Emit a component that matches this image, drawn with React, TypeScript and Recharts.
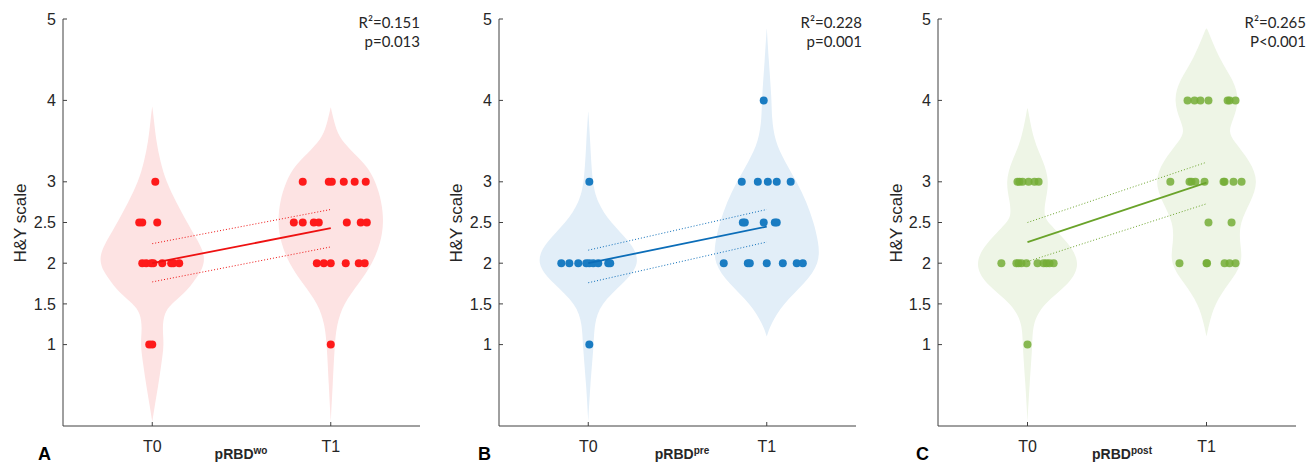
import React from 'react';
import { ScatterChart, Scatter, XAxis, YAxis } from 'recharts';

const categories = ['T0', 'T1'];
const yTicks = [1, 1.5, 2, 2.5, 3, 4, 5];
const panelLetters = ['A', 'B', 'C'];
const groupNames = ['pRBD', 'pRBD', 'pRBD'];
const groupSups = ['wo', 'pre', 'post'];
const r2Labels = ['R\u00B2=0.151', 'R\u00B2=0.228', 'R\u00B2=0.265'];
const pLabels = ['p=0.013', 'p=0.001', 'P<0.001'];

// ---- dots (x = jittered category position, y = H&Y value)
const dotsA = [
  { x: 1.017, y: 3 },
  { x: 0.927, y: 2.5 }, { x: 0.944, y: 2.5 }, { x: 1.028, y: 2.5 },
  { x: 0.944, y: 2 }, { x: 0.966, y: 2 }, { x: 0.994, y: 2 }, { x: 1.006, y: 2 },
  { x: 1.056, y: 2 }, { x: 1.106, y: 2 }, { x: 1.118, y: 2 }, { x: 1.151, y: 2 },
  { x: 0.983, y: 1 }, { x: 1.0, y: 1 },
  { x: 1.843, y: 3 }, { x: 1.989, y: 3 }, { x: 2.006, y: 3 }, { x: 2.073, y: 3 }, { x: 2.134, y: 3 }, { x: 2.196, y: 3 },
  { x: 1.793, y: 2.5 }, { x: 1.843, y: 2.5 }, { x: 1.905, y: 2.5 }, { x: 1.933, y: 2.5 },
  { x: 2.09, y: 2.5 }, { x: 2.168, y: 2.5 }, { x: 2.202, y: 2.5 },
  { x: 1.922, y: 2 }, { x: 1.961, y: 2 }, { x: 2.0, y: 2 }, { x: 2.084, y: 2 }, { x: 2.157, y: 2 }, { x: 2.19, y: 2 },
  { x: 2.0, y: 1 },
];
const dotsB = [
  { x: 1.006, y: 3 },
  { x: 0.849, y: 2 }, { x: 0.894, y: 2 }, { x: 0.944, y: 2 }, { x: 0.989, y: 2 }, { x: 1.006, y: 2 },
  { x: 1.028, y: 2 }, { x: 1.056, y: 2 }, { x: 1.112, y: 2 }, { x: 1.123, y: 2 },
  { x: 1.006, y: 1 },
  { x: 1.983, y: 4 },
  { x: 1.86, y: 3 }, { x: 1.95, y: 3 }, { x: 2.006, y: 3 }, { x: 2.056, y: 3 }, { x: 2.134, y: 3 },
  { x: 1.866, y: 2.5 }, { x: 1.877, y: 2.5 }, { x: 1.983, y: 2.5 }, { x: 2.045, y: 2.5 }, { x: 2.056, y: 2.5 },
  { x: 1.759, y: 2 }, { x: 1.894, y: 2 }, { x: 1.905, y: 2 }, { x: 2.0, y: 2 }, { x: 2.09, y: 2 }, { x: 2.168, y: 2 }, { x: 2.202, y: 2 },
];
const dotsC = [
  { x: 0.944, y: 3 }, { x: 0.955, y: 3 }, { x: 0.972, y: 3 }, { x: 1.006, y: 3 }, { x: 1.039, y: 3 }, { x: 1.062, y: 3 },
  { x: 0.854, y: 2 }, { x: 0.938, y: 2 }, { x: 0.95, y: 2 }, { x: 0.966, y: 2 }, { x: 0.994, y: 2 },
  { x: 1.056, y: 2 }, { x: 1.09, y: 2 }, { x: 1.106, y: 2 }, { x: 1.123, y: 2 }, { x: 1.146, y: 2 },
  { x: 1.0, y: 1 },
  { x: 1.894, y: 4 }, { x: 1.933, y: 4 }, { x: 1.966, y: 4 }, { x: 2.011, y: 4 }, { x: 2.118, y: 4 }, { x: 2.129, y: 4 }, { x: 2.162, y: 4 },
  { x: 1.798, y: 3 }, { x: 1.905, y: 3 }, { x: 1.916, y: 3 }, { x: 1.938, y: 3 }, { x: 1.989, y: 3 },
  { x: 2.095, y: 3 }, { x: 2.101, y: 3 }, { x: 2.151, y: 3 }, { x: 2.196, y: 3 },
  { x: 2.011, y: 2.5 }, { x: 2.14, y: 2.5 },
  { x: 1.849, y: 2 }, { x: 2.0, y: 2 }, { x: 2.003, y: 2 }, { x: 2.101, y: 2 }, { x: 2.129, y: 2 }, { x: 2.162, y: 2 },
];

// ---- violin density profiles (y level, half width in x units)
const violinA0Y = [0.05, 0.25, 0.5, 0.75, 1.0, 1.2, 1.39, 1.5, 1.63, 1.75, 1.9, 2.05, 2.2, 2.35, 2.5, 2.75, 3.0, 3.25, 3.5, 3.75, 3.93];
const violinA0W = [0, 0.014, 0.034, 0.05, 0.067, 0.056, 0.067, 0.106, 0.179, 0.224, 0.275, 0.297, 0.275, 0.235, 0.196, 0.134, 0.078, 0.045, 0.022, 0.01, 0];
const violinA1Y = [0.05, 0.5, 1.0, 1.25, 1.5, 1.75, 2.0, 2.25, 2.5, 2.75, 3.0, 3.2, 3.4, 3.55, 3.75, 3.92];
const violinA1W = [0, 0.011, 0.022, 0.034, 0.07, 0.157, 0.235, 0.28, 0.297, 0.286, 0.252, 0.202, 0.106, 0.045, 0.017, 0];
const violinB0Y = [0.05, 0.5, 1.0, 1.25, 1.5, 1.75, 2.0, 2.25, 2.5, 2.75, 3.0, 3.5, 3.88];
const violinB0W = [0, 0.011, 0.031, 0.034, 0.067, 0.196, 0.297, 0.241, 0.123, 0.05, 0.022, 0.011, 0];
const violinB1Y = [1.1, 1.25, 1.5, 1.75, 2.0, 2.25, 2.5, 2.75, 3.0, 3.25, 3.5, 3.79, 4.0, 4.5, 4.9];
const violinB1W = [0, 0.022, 0.09, 0.213, 0.297, 0.291, 0.263, 0.224, 0.168, 0.101, 0.045, 0.028, 0.028, 0.011, 0];
const violinC0Y = [0.05, 0.5, 1.0, 1.25, 1.5, 1.75, 2.0, 2.25, 2.5, 2.6, 2.75, 3.0, 3.25, 3.5, 3.92];
const violinC0W = [0, 0.011, 0.028, 0.028, 0.084, 0.241, 0.297, 0.23, 0.112, 0.092, 0.098, 0.123, 0.09, 0.034, 0];
const violinC1Y = [1.1, 1.25, 1.5, 1.75, 2.0, 2.25, 2.5, 2.75, 3.0, 3.25, 3.5, 3.62, 3.75, 4.0, 4.25, 4.5, 4.9];
const violinC1W = [0, 0.014, 0.045, 0.123, 0.207, 0.185, 0.185, 0.246, 0.291, 0.246, 0.151, 0.123, 0.146, 0.185, 0.151, 0.073, 0];

// ---- regression fit and confidence bounds at T0 and T1
const fitA = [2.0, 2.43];
const upperA = [2.24, 2.66];
const lowerA = [1.77, 2.2];
const fitB = [2.0, 2.45];
const upperB = [2.16, 2.66];
const lowerB = [1.76, 2.26];
const fitC = [2.26, 2.99];
const upperC = [2.5, 3.24];
const lowerC = [2.02, 2.73];

const FONT = '"Liberation Sans", Arial, sans-serif';
const TEXT = '#262626';
const AXIS = '#404040';

const buildViolin = (center: number, ys: number[], ws: number[]) => {
  const left = ys.map((y, i) => ({ x: center - ws[i], y }));
  const right = ys.map((y, i) => ({ x: center + ws[i], y })).reverse();
  return [...left, ...right];
};
const buildLine = (vals: number[]) => vals.map((y, i) => ({ x: i + 1, y }));

const noShape = () => <g />;

type PanelProps = {
  dots: { x: number; y: number }[];
  v0: { x: number; y: number }[];
  v1: { x: number; y: number }[];
  fit: number[];
  upper: number[];
  lower: number[];
  dotColor: string;
  dotOpacity: number;
  lineColor: string;
  fillColor: string;
  width: number;
  right: number;
};

function Panel(p: PanelProps) {
  const dotShape = (s: any) => (
    <circle cx={s.cx} cy={s.cy} r={4} fill={p.dotColor} fillOpacity={p.dotOpacity} />
  );
  return (
    <ScatterChart width={p.width} height={463} margin={{ top: 19, right: p.right, left: 13, bottom: 7 }}>
      <XAxis
        type="number"
        dataKey="x"
        domain={[0.5, 2.5]}
        ticks={[1, 2]}
        allowDataOverflow
        tickFormatter={(v: number) => categories[Math.round(v) - 1]}
        height={30}
        tickSize={-4}
        tickMargin={19}
        axisLine={{ stroke: AXIS, strokeWidth: 1 }}
        tickLine={{ stroke: AXIS }}
        tick={{ fill: TEXT, fontSize: 16, fontFamily: FONT }}
      />
      <YAxis
        type="number"
        dataKey="y"
        domain={[0, 5]}
        ticks={yTicks}
        allowDataOverflow
        width={50}
        tickSize={-4}
        tickMargin={11}
        axisLine={{ stroke: AXIS, strokeWidth: 1 }}
        tickLine={{ stroke: AXIS }}
        tick={{ fill: TEXT, fontSize: 16, fontFamily: FONT }}
      />
      <Scatter data={p.v0} shape={noShape} isAnimationActive={false} legendType="none"
        line={{ fill: p.fillColor, stroke: 'none' }} lineJointType="basis" />
      <Scatter data={p.v1} shape={noShape} isAnimationActive={false} legendType="none"
        line={{ fill: p.fillColor, stroke: 'none' }} lineJointType="basis" />
      <Scatter data={p.dots} shape={dotShape} isAnimationActive={false} legendType="none" />
      <Scatter data={buildLine(p.upper)} shape={noShape} isAnimationActive={false} legendType="none"
        line={{ stroke: p.lineColor, strokeWidth: 1, strokeDasharray: '1 2', fill: 'none' }} lineJointType="linear" />
      <Scatter data={buildLine(p.lower)} shape={noShape} isAnimationActive={false} legendType="none"
        line={{ stroke: p.lineColor, strokeWidth: 1, strokeDasharray: '1 2', fill: 'none' }} lineJointType="linear" />
      <Scatter data={buildLine(p.fit)} shape={noShape} isAnimationActive={false} legendType="none"
        line={{ stroke: p.lineColor, strokeWidth: 1.8, fill: 'none' }} lineJointType="linear" />
    </ScatterChart>
  );
}

const panelLeft = [0, 436, 875];
const letterX = [38, 478, 916];
const xLabelX = [241, 682, 1122];
const statRight = [420, 862, 1306];
const yLabelX = [20, 456, 896];

export default function App() {
  return (
    <div style={{ position: 'absolute', left: 0, top: 0, width: 1309, height: 463, background: '#fff', overflow: 'hidden' }}>
      <div style={{ position: 'absolute', left: panelLeft[0], top: 0 }}>
        <Panel dots={dotsA} v0={buildViolin(1, violinA0Y, violinA0W)} v1={buildViolin(2, violinA1Y, violinA1W)}
          fit={fitA} upper={upperA} lower={lowerA} dotColor="#fe1a1a" dotOpacity={1} lineColor="#ee1111"
          fillColor="#fde3e3" width={436} right={16} />
      </div>
      <div style={{ position: 'absolute', left: panelLeft[1], top: 0 }}>
        <Panel dots={dotsB} v0={buildViolin(1, violinB0Y, violinB0W)} v1={buildViolin(2, violinB1Y, violinB1W)}
          fit={fitB} upper={upperB} lower={lowerB} dotColor="#1a7cc2" dotOpacity={1} lineColor="#0b6db8"
          fillColor="#e2eef8" width={436} right={16} />
      </div>
      <div style={{ position: 'absolute', left: panelLeft[2], top: 0 }}>
        <Panel dots={dotsC} v0={buildViolin(1, violinC0Y, violinC0W)} v1={buildViolin(2, violinC1Y, violinC1W)}
          fit={fitC} upper={upperC} lower={lowerC} dotColor="#74ad36" dotOpacity={0.85} lineColor="#6aa32a"
          fillColor="#eef5e6" width={434} right={13} />
      </div>
      <svg width={1309} height={463} style={{ position: 'absolute', left: 0, top: 0, pointerEvents: 'none' }}>
        {panelLetters.map((l, i) => (
          <text key={'l' + i} x={letterX[i]} y={460} fontFamily={FONT} fontWeight="bold" fontSize={18} fill="#000">{l}</text>
        ))}
        {groupNames.map((g, i) => (
          <text key={'g' + i} x={xLabelX[i]} y={459} textAnchor="middle" fontFamily={FONT} fontWeight="bold" fontSize={14} fill={TEXT}>
            {g}
            <tspan fontSize={10} dy={-5}>{groupSups[i]}</tspan>
          </text>
        ))}
        {r2Labels.map((r, i) => (
          <g key={'r' + i}>
            <text x={statRight[i]} y={28} textAnchor="end" fontFamily="Lato, sans-serif" fontSize={15} fill={TEXT}>{r}</text>
            <text x={statRight[i]} y={47} textAnchor="end" fontFamily="Lato, sans-serif" fontSize={15} fill={TEXT}>{pLabels[i]}</text>
          </g>
        ))}
        {yLabelX.map((x, i) => (
          <text key={'y' + i} x={x} y={223} transform={`rotate(-90 ${x} 223)`} textAnchor="middle" dominantBaseline="central"
            fontFamily={FONT} fontSize={17} fill={TEXT}>H&amp;Y scale</text>
        ))}
      </svg>
    </div>
  );
}
